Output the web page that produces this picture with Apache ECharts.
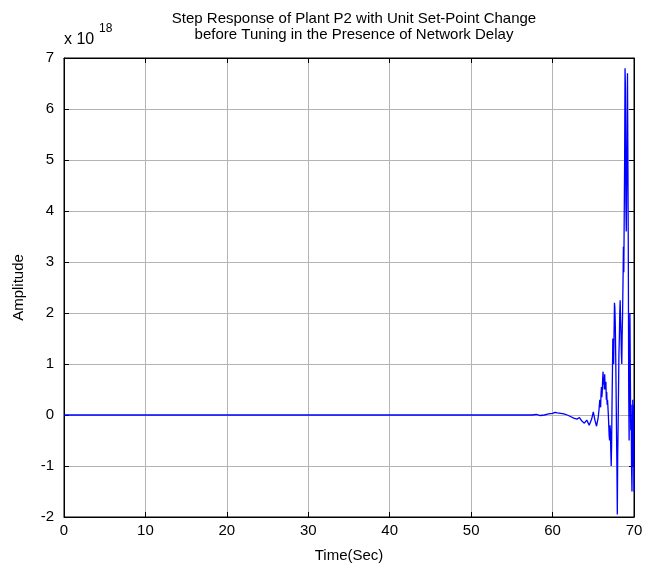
<!DOCTYPE html>
<html>
<head>
<meta charset="utf-8">
<script src="https://cdn.jsdelivr.net/npm/echarts@6/dist/echarts.min.js"></script>
<style>
    html, body { margin: 0; padding: 0; background: #fff; }
    #main { width: 669px; height: 574px; }
</style>
</head>
<body>
<div id="main"></div>
<script>
// 时间 (s)
var timeSec = [0, 57, 57.5, 58, 58.5, 59, 59.5, 60, 60.3, 60.6, 61, 61.4, 61.8, 62.2, 62.6, 63, 63.3, 63.6, 63.9,
    64.2, 64.5, 64.8, 65.0, 65.2, 65.4, 65.6, 65.7, 65.8, 65.85, 65.9, 65.95, 66.0, 66.05, 66.1, 66.15, 66.2,
    66.25, 66.3, 66.35, 66.4, 66.45, 66.5, 66.55, 66.6, 66.65, 66.7, 66.75, 66.8, 66.85, 66.9, 66.95, 67.0,
    67.05, 67.1, 67.15, 67.2, 67.25, 67.3, 67.35, 67.4, 67.45, 67.5, 67.55, 67.6, 67.65, 67.7, 67.75, 67.8,
    67.85, 67.9, 67.95, 68.0, 68.05, 68.1, 68.15, 68.2, 68.25, 68.3, 68.35, 68.4, 68.45, 68.5, 68.55, 68.6,
    68.65, 68.7, 68.75, 68.8, 68.85, 68.9, 68.95, 69.0, 69.05, 69.1, 69.15, 69.2, 69.25, 69.3, 69.35, 69.4,
    69.45, 69.5, 69.55, 69.6, 69.65, 69.7, 69.75, 69.8, 69.85, 69.9, 69.95, 70];
// 幅值 (x 10^18)
var amplitude = [0, 0, 0.0, 0.01, -0.01, 0.0, 0.02, 0.03, 0.05, 0.04, 0.03, 0.02, 0.0, -0.03, -0.06, -0.08, -0.05, -0.12, -0.16,
    -0.1, -0.2, -0.08, 0.06, -0.1, -0.22, -0.05, 0.1, 0.3, 0.2, 0.15, 0.4, 0.55, 0.35, 0.45, 0.7, 0.85,
    0.6, 0.7, 0.5, 0.8, 0.55, 0.5, 0.65, 0.3, 0.45, 0.2, 0.3, 0.3, 0.0, -0.2, -0.4, -0.5,
    -0.2, -0.3, -0.7, -1.0, -0.6, 0.2, 0.8, 1.5, 1.1, 1.0, 1.6, 2.2, 2.1, 1.8, 1.2, 0.5,
    -0.3, -1.0, -1.95, -0.8, -0.2, 0.5, 1.2, 1.5, 2.0, 2.25, 1.9, 1.6, 1.2, 1.0, 1.6, 2.0,
    2.6, 3.3, 2.8, 2.8, 5.0, 6.8, 6.4, 4.2, 3.6, 4.5, 5.5, 6.7, 5.0, 3.2, 0.5, -0.5,
    1.0, 2.0, 0.8, -0.3, 0.2, -1.0, -1.5, -0.5, 0.3, -1.0, 0.2, -1.5];
var titleLines = ['Step Response of Plant P2 with Unit Set-Point Change', 'before Tuning in the Presence of Network Delay'];

var chart = echarts.init(document.getElementById('main'), null, { renderer: 'canvas' });

var seriesData = [];
for (var i = 0; i < timeSec.length; i++) {
    seriesData.push([timeSec[i], amplitude[i]]);
}

var font = 'Liberation Sans, Arial, sans-serif';

var option = {
    backgroundColor: '#fff',
    animation: false,
    title: {
        text: titleLines.join('\n'),
        left: 349,
        top: 6,
        textAlign: 'center',
        textStyle: {
            fontFamily: font,
            fontSize: 15,
            fontWeight: 'normal',
            color: '#000',
            lineHeight: 16
        }
    },
    grid: {
        left: 64,
        right: 35,
        top: 58,
        bottom: 57,
        show: true,
        borderColor: '#000',
        borderWidth: 1
    },
    graphic: [{
        type: 'text',
        left: 64,
        top: 32,
        style: { text: 'x 10', font: '16px ' + font, fill: '#000' }
    }, {
        type: 'text',
        left: 99,
        top: 23,
        style: { text: '18', font: '12px ' + font, fill: '#000' }
    }],
    xAxis: [{
        type: 'value',
        min: 0,
        max: 70,
        interval: 10,
        name: 'Time(Sec)',
        nameLocation: 'middle',
        nameGap: 31,
        nameTextStyle: { fontFamily: font, fontSize: 15, color: '#000' },
        axisLine: { show: true, onZero: false, lineStyle: { color: '#000' } },
        axisTick: { show: true, inside: true, length: 5, lineStyle: { color: '#000' } },
        axisLabel: { fontFamily: font, fontSize: 15, color: '#000', margin: 6 },
        splitLine: { show: true, lineStyle: { color: '#b4b4b4', width: 1 } }
    }, {
        type: 'value',
        position: 'top',
        min: 0,
        max: 70,
        interval: 10,
        axisLine: { show: true, onZero: false, lineStyle: { color: '#000' } },
        axisTick: { show: true, inside: true, length: 5, lineStyle: { color: '#000' } },
        axisLabel: { show: false },
        splitLine: { show: false }
    }],
    yAxis: [{
        type: 'value',
        min: -2,
        max: 7,
        interval: 1,
        name: 'Amplitude',
        nameLocation: 'middle',
        nameGap: 38,
        nameTextStyle: { fontFamily: font, fontSize: 15, color: '#000' },
        axisLine: { show: true, onZero: false, lineStyle: { color: '#000' } },
        axisTick: { show: true, inside: true, length: 5, lineStyle: { color: '#000' } },
        axisLabel: { fontFamily: font, fontSize: 15, color: '#000', margin: 10 },
        splitLine: { show: true, lineStyle: { color: '#b4b4b4', width: 1 } }
    }, {
        type: 'value',
        position: 'right',
        min: -2,
        max: 7,
        interval: 1,
        axisLine: { show: true, onZero: false, lineStyle: { color: '#000' } },
        axisTick: { show: true, inside: true, length: 5, lineStyle: { color: '#000' } },
        axisLabel: { show: false },
        splitLine: { show: false }
    }],
    series: [{
        type: 'line',
        data: seriesData,
        showSymbol: false,
        symbol: 'none',
        lineStyle: { color: '#0000ff', width: 1.3 },
        z: 5
    }]
};

chart.setOption(option);
</script>
</body>
</html>
